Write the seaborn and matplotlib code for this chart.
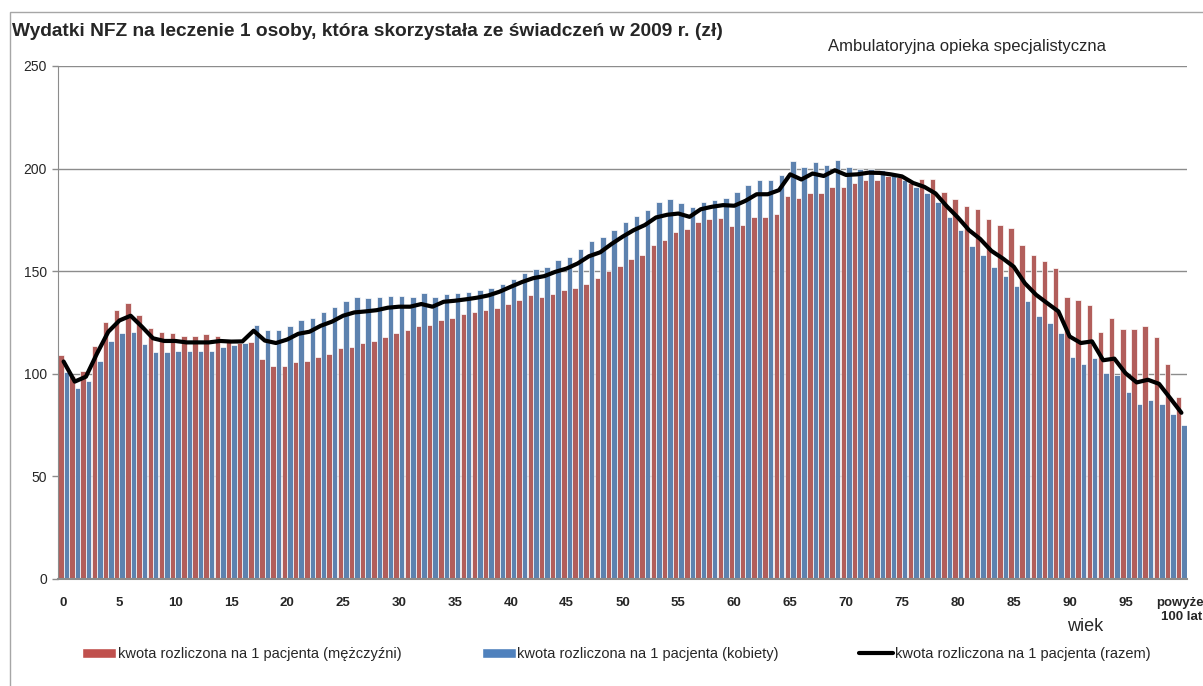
import matplotlib
matplotlib.use("Agg")
import matplotlib.pyplot as plt
from matplotlib.patches import Patch, Rectangle
from matplotlib.lines import Line2D
import numpy as np
import pandas as pd
import seaborn as sns

# wiek 0..100 (100 = "powyżej 100 lat")
ages = list(range(101))

men = [109, 99, 101.5, 113.5, 125, 131, 134.7, 128.7, 122.3, 120.2,
       119.8, 118.6, 118.6, 119.2, 118.6, 116.5, 115.2, 115.5, 107.2, 104,
       104, 105.7, 106.3, 108, 109.7, 112.7, 113.2, 114.8, 115.8, 117.9,
       119.9, 121.5, 123.1, 123.6, 126.2, 127.2, 129, 130.3, 130.9, 131.9,
       134, 136.1, 138.2, 137.5, 138.7, 140.8, 141.9, 143.7, 146.5, 150,
       152.7, 156, 157.9, 162.6, 165.2, 169.2, 170.4, 173.9, 175.4, 176,
       171.8, 172.3, 176.4, 176.4, 178, 186.7, 185.9, 188, 188.3, 190.8,
       190.8, 193, 194.5, 194.5, 196.4, 196, 193.2, 195.1, 194.7, 188.8,
       185.3, 181.7, 180.2, 175.4, 172.3, 170.9, 162.6, 157.9, 154.8, 151.7,
       137.2, 136, 133.6, 120.6, 127.3, 121.8, 121.8, 123.2, 118.1, 104.6,
       88.6]

women = [101, 93, 96.4, 106.4, 116.1, 119.8, 120.2, 114.5, 110.8, 110.4,
         111.3, 111, 111.3, 111, 113, 114, 115, 124, 121.3, 121.3,
         123.2, 126.3, 127.2, 129.9, 132.5, 135.4, 137.5, 137, 137.5, 138,
         138, 137.5, 139.2, 137.5, 138.7, 139.2, 139.7, 140.6, 141.8, 143.7,
         146, 149.1, 151, 152.1, 155.4, 156.7, 160.6, 164.6, 166.6, 170.3,
         174.1, 177, 179.6, 183.6, 185.3, 183.3, 181.2, 183.6, 184.8, 185.7,
         188.8, 192.1, 194.5, 194.5, 196.8, 203.9, 200.8, 203.2, 201.9, 204.4,
         200.8, 200, 200, 199.5, 197, 194.3, 191.1, 187.9, 183.8, 176.5,
         169.9, 162.4, 157.9, 152.2, 147.7, 143, 135.7, 128.4, 124.9, 119.7,
         108.2, 104.6, 107.7, 100.4, 99.4, 91.2, 85.5, 87.4, 85.5, 80.2,
         75.1]

total = [106, 96.2, 98.6, 110, 120.5, 126, 128.3, 123, 117.3, 116,
         116, 115.3, 115.3, 115.3, 116, 115.7, 115.8, 121, 116.2, 115,
         116.7, 119.5, 120.5, 123.4, 125.4, 128.3, 129.9, 130.4, 131, 132.2,
         132.7, 132.7, 134, 132.7, 135.1, 135.6, 136.3, 137.1, 138.2, 140,
         142.4, 144.7, 146.6, 147.6, 149.7, 151.3, 153.8, 157.3, 159.2, 163.2,
         166.8, 170, 172.5, 176.2, 177.5, 178.1, 176.5, 180.2, 181.4, 182.2,
         181.9, 184.3, 187.5, 187.5, 189.5, 197.2, 194.7, 197.6, 196.4, 199.2,
         196.9, 197.2, 198, 197.9, 197.2, 196.2, 193, 191.1, 187.9, 181.7,
         176.2, 170, 165.7, 159.9, 156.3, 152.2, 144.1, 138.5, 134.4, 130.4,
         118.2, 115, 115.8, 106.6, 107.4, 100.3, 95.8, 97.1, 95.1, 88.1,
         81]

tick_ages = list(range(0, 101, 5))
tick_labels = [str(a) for a in range(0, 100, 5)] + ["powyżej\n100 lat"]

series_names = ["kwota rozliczona na 1 pacjenta (mężczyźni)",
                "kwota rozliczona na 1 pacjenta (kobiety)",
                "kwota rozliczona na 1 pacjenta (razem)"]

sns.set_style("white")
plt.rcParams["font.family"] = ["Liberation Sans", "DejaVu Sans"]

red = "#C0504D"
blue = "#4F81BD"

df = pd.DataFrame({
    "wiek": ages * 2,
    "kwota": men + women,
    "plec": ["M"] * len(ages) + ["K"] * len(ages),
})

fig = plt.figure(figsize=(12.03, 6.86), dpi=100)
ax = fig.add_axes([58 / 1203, 1 - 579 / 686, (1187 - 58) / 1203, (579 - 66) / 686])

sns.barplot(data=df, x="wiek", y="kwota", hue="plec", order=ages,
            palette=[red, blue], width=0.98, edgecolor="white",
            linewidth=0.5, legend=False, ax=ax)
sns.lineplot(x=np.arange(len(ages)), y=total, color="black", lw=3, ax=ax)

ax.set_xlim(-0.5, 100.5)
ax.set_ylim(0, 250)
ax.set_yticks(range(0, 251, 50))
ax.yaxis.grid(True, color="#8c8c8c", lw=1)
ax.set_axisbelow(True)

ax.set_xticks(tick_ages, tick_labels, fontsize=9.5, fontweight="bold")
ax.tick_params(axis="x", length=0, pad=13)
ax.tick_params(axis="y", length=4, width=1, color="#8c8c8c", labelsize=10, pad=4, left=True)

for s in ["top", "right"]:
    ax.spines[s].set_visible(False)
ax.spines["left"].set_color("#8c8c8c")
ax.spines["bottom"].set_color("#8c8c8c")
ax.spines["bottom"].set_linewidth(1.5)

ax.set_ylabel("")
ax.set_xlabel("wiek", fontsize=13)
ax.xaxis.set_label_coords((1085 - 58) / 1129, (579 - 618) / 513)

fig.text(12 / 1203, 1 - 32 / 686,
         "Wydatki NFZ na leczenie 1 osoby, która skorzystała ze świadczeń w 2009 r. (zł)",
         fontsize=13.8, fontweight="bold", va="center", ha="left")
fig.text(828 / 1203, 1 - 46 / 686, "Ambulatoryjna opieka specjalistyczna",
         fontsize=12, va="center", ha="left")

handles = [Patch(facecolor=red), Patch(facecolor=blue),
           Line2D([], [], color="black", lw=3)]
fig.legend(handles, series_names, loc="center left",
           bbox_to_anchor=(69 / 1203, 1 - 654 / 686), ncol=3, frameon=False,
           fontsize=10.5, handlelength=2.35, handleheight=0.75,
           handletextpad=0.1, columnspacing=5.5)

fig.patches.append(Rectangle((10 / 1203, -0.05), 1.0, 1 - 12 / 686 + 0.05,
                             transform=fig.transFigure, fill=False,
                             edgecolor="#a6a6a6", lw=1))

fig.savefig("out.png", dpi=100)
